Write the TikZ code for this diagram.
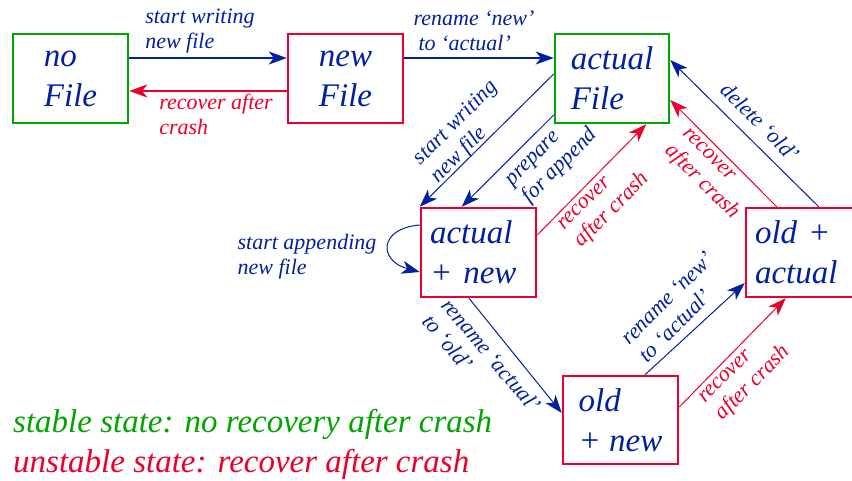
\documentclass[tikz,border=0pt]{standalone}
\usepackage{fontspec}
\setmainfont{Liberation Serif}
\usetikzlibrary{arrows.meta,calc}
\definecolor{myblue}{RGB}{0,32,159}
\definecolor{myred}{RGB}{235,0,45}
\definecolor{mygreen}{RGB}{0,165,0}
\begin{document}
\begin{tikzpicture}[x=1pt,y=1pt,
  state/.style={draw, line width=2.5pt, minimum width=115pt, minimum height=89pt,
    align=left, text=myblue, font=\fontsize{33}{40}\selectfont\itshape, inner sep=0pt},
  stable/.style={state, draw=mygreen},
  unstable/.style={state, draw=myred},
  lefttext/.style={text width=97pt, inner xsep=9pt},
  lbl/.style={font=\fontsize{22}{25}\selectfont\itshape, align=left, inner sep=0pt},
  bluelbl/.style={lbl, text=myblue},
  redlbl/.style={lbl, text=myred},
  legend/.style={font=\fontsize{33}{40}\selectfont\itshape, anchor=base west, inner sep=0pt},
  tip/.style={-{Stealth[length=18pt,width=13pt,inset=5pt]}},
  bluethick/.style={tip, color=myblue, line width=1.3pt},
  redthick/.style={tip, color=myred, line width=1.3pt},
  bluethin/.style={tip, color=myblue, line width=1pt},
  redthin/.style={tip, color=myred, line width=1pt}]
\useasboundingbox (0,0) rectangle (852,-481);

% states
\node[stable] (nf) at (70.5,-78.5) {no\\File};
\node[unstable] (nw) at (345.5,-78.5) {new\\File};
\node[stable, minimum width=114pt] (af) at (612,-78.5) {actual\\File};
\node[unstable, lefttext] (an) at (478.5,-252.5) {actual\\+ new};
\node[unstable, lefttext] (oa) at (803.5,-252.5) {old +\\actual};
\node[unstable, minimum height=88pt] (on) at (620.5,-420) {old\\+ new};

% transitions
\draw[bluethick] ([yshift=20.5pt]nf.east) -- ([yshift=20.5pt]nw.west);
\draw[redthick] ([yshift=-12.5pt]nw.west) -- ([yshift=-12.5pt]nf.east);
\draw[bluethick] ([yshift=20.5pt]nw.east) -- ([yshift=20.5pt]af.west);
\draw[bluethin] ([yshift=4.5pt]af.west) -- (an.north west);
\draw[bluethin] ([yshift=-36.5pt]af.west) -- ([xshift=42pt]an.north west);
\draw[redthin] ([yshift=17.5pt]an.east) -- ([xshift=-24pt]af.south east);
\draw[bluethin] ([yshift=27.5pt]an.west) to[out=185,in=165,looseness=2.3] ([yshift=-19.5pt]an.west);
\draw[bluethin] ([xshift=-9.5pt]an.south) -- ([yshift=7pt]on.west);
\draw[bluethin] ([xshift=24.5pt]on.north) -- ([yshift=-30.5pt]oa.west);
\draw[redthin] ([yshift=13pt]on.east) -- ([xshift=41pt]oa.south west);
\draw[bluethin] ([xshift=74pt]oa.north west) -- ([yshift=18.5pt]af.east);
\draw[redthin] ([xshift=32pt]oa.north west) -- ([yshift=-21.5pt]af.east);

% labels
\node[bluelbl] (l1) at (200,-31) {start writing\\new file};
\node[redlbl] (l2) at (216,-114) {recover after\\crash};
\node[bluelbl] (l3) at (474,-31) {rename ‘new’\\\hspace{5pt}to ‘actual’};
\node[bluelbl, rotate=45] (l4) at (465,-132) {start writing\\new file};
\node[bluelbl, rotate=45] (l5) at (553,-159) {prepare\\for append};
\node[redlbl, rotate=45] (l6) at (605,-203) {recover\\after crash};
\node[redlbl, rotate=-45] (l7) at (709,-175) {recover\\after crash};
\node[bluelbl, rotate=-45] (l8) at (760,-122) {delete ‘old’};
\node[bluelbl] (l9) at (307,-257) {start appending\\new file};
\node[bluelbl, rotate=-50] (l10) at (482,-363) {rename ‘actual’\\to ‘old’};
\node[bluelbl, rotate=45] (l11) at (676,-307) {rename ‘new’\\to ‘actual’};
\node[redlbl, rotate=45] (l12) at (746,-376) {recover\\after crash};

% legend
\node[legend, text=mygreen] (leg1) at (13,-432) {stable state: no recovery after crash};
\node[legend, text=myred] (leg2) at (13,-472) {unstable state: recover after crash};
\end{tikzpicture}
\end{document}
